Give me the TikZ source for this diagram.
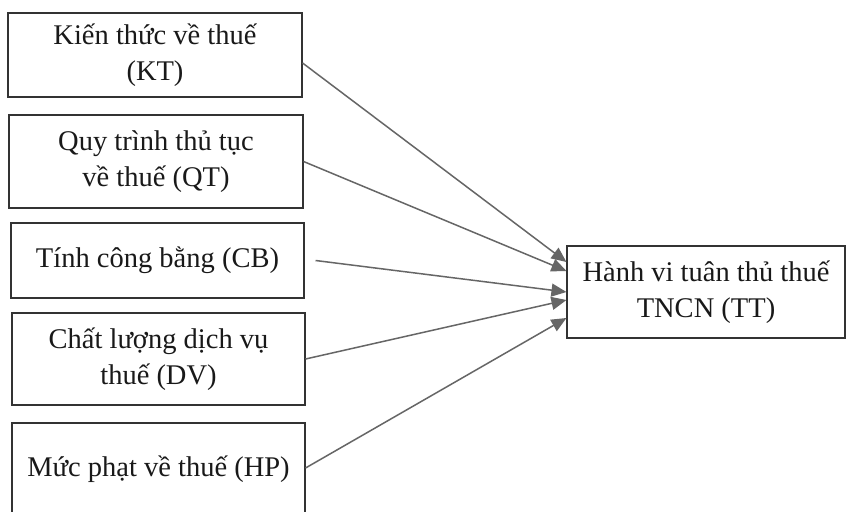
\documentclass[tikz,border=0pt]{standalone}
\usepackage{fontspec}
\setmainfont{Liberation Serif}
\usetikzlibrary{arrows.meta,calc}
\begin{document}
\begin{tikzpicture}[x=1pt,y=-1pt,
  boxnode/.style={draw=black!80,line width=1.1pt,align=center,inner sep=0pt,
    font=\fontsize{28.5}{36}\selectfont,text=black!90},
  link/.style={draw=black!60,line width=1.5pt,-{Triangle[length=15pt,width=13pt]},
    shorten >=0pt}]
\useasboundingbox (0,0) rectangle (850,511);
\fill[white] (0,0) rectangle (850,511);
\node[boxnode,minimum width=294pt,minimum height=84pt] (kt) at (155,55) {Kiến thức về thuế\\(KT)};
\node[boxnode,minimum width=294pt,minimum height=93pt] (qt) at (156,161.5) {Quy trình thủ tục\\về thuế (QT)};
\node[boxnode,minimum width=293pt,minimum height=75pt] (cb) at (157.5,260.5) {Tính công bằng (CB)};
\node[boxnode,minimum width=293pt,minimum height=92pt] (dv) at (158.5,359) {Chất lượng dịch vụ\\thuế (DV)};
\node[boxnode,minimum width=293pt,minimum height=92pt] (hp) at (158.5,469) {Mức phạt về thuế (HP)};
\node[boxnode,minimum width=278pt,minimum height=92pt] (tt) at (706,292) {Hành vi tuân thủ thuế\\TNCN (TT)};
\draw[link] ([yshift=-8pt]kt.east) -- ([yshift=30pt]tt.west);
\draw[link] (qt.east) -- ([yshift=21pt]tt.west);
\draw[link] ([xshift=11pt]cb.east) -- ([yshift=0pt]tt.west);
\draw[link] (dv.east) -- ([yshift=-8pt]tt.west);
\draw[link] ([yshift=1pt]hp.east) -- ([yshift=-26pt]tt.west);
\end{tikzpicture}
\end{document}
